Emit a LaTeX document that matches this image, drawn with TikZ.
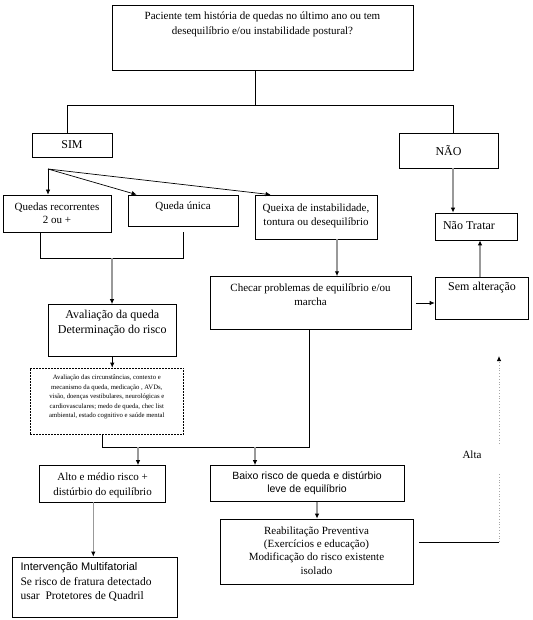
\documentclass[tikz,border=0pt]{standalone}
\usepackage{fontspec}
\setmainfont{Liberation Serif}
\newfontfamily\arialfont{Liberation Sans}
\usetikzlibrary{arrows.meta}
\tikzset{
  caixa/.style={draw, line width=0.7pt, inner sep=0pt, align=center},
  texto/.style={align=center, inner sep=0pt},
  seta/.style={line width=1.4pt, draw=black!40, -{Latex[black, length=5pt, width=4.5pt]}},
  fina/.style={line width=0.7pt, -{Latex[length=5pt, width=4.5pt]}},
  linha/.style={line width=0.7pt}
}
\begin{document}
\begin{tikzpicture}[x=1pt, y=-1pt, font=\fontsize{11}{15}\selectfont]
  \useasboundingbox (0,0) rectangle (532,620);
  % pergunta inicial
  \node [caixa, minimum width=301pt, minimum height=65pt] (pergunta) at (262.5,37.5) {};
  \node [texto] (perguntatxt) at (262.5,24.5) {Paciente tem história de quedas no último ano ou tem\\desequilíbrio e/ou instabilidade postural?};

  % sim / nao
  \node [caixa, minimum width=80pt, minimum height=24pt, font=\fontsize{12}{14}\selectfont] (sim) at (72,145) {SIM};
  \node [caixa, minimum width=99pt, minimum height=35pt, font=\fontsize{12}{14}\selectfont] (nao) at (448.5,150.5) {NÃO};
  \coordinate (divide) at (255,105);
  \coordinate (divsim) at (67,105);
  \coordinate (divnao) at (453,105);
  \draw [linha] (divide |- pergunta.south) -- (divide);
  \draw [linha] (divsim |- sim.north) -- (divsim) -- (divnao) -- (divnao |- nao.north);

  % ramo do sim
  \coordinate (leque) at (48,169);
  \node [caixa, minimum width=108pt, minimum height=37pt] (recorrentes) at (57,213.5) {};
  \node [texto, font=\fontsize{11}{12.5}\selectfont] (recorrentestxt) at (57,213) {Quedas recorrentes\\2 ou +};
  \node [caixa, minimum width=110pt, minimum height=31pt] (unica) at (183,210.5) {};
  \node [texto] (unicatxt) at (183,206.5) {Queda única};
  \node [caixa, minimum width=122pt, minimum height=44pt] (queixa) at (316,217) {};
  \node [texto, font=\fontsize{11}{14}\selectfont] (queixatxt) at (316,216) {Queixa de instabilidade,\\tontura ou desequilíbrio};
  \draw [fina] (leque) -- (leque |- recorrentes.north);
  \draw [fina] (leque) -- ([xshift=9pt]unica.north west);
  \draw [fina] (leque) -- ([xshift=16pt]queixa.north west);

  % ramo do nao
  \node [caixa, minimum width=82pt, minimum height=27pt] (naotratar) at (476,226.5) {};
  \node [texto, font=\fontsize{12}{14}\selectfont] (naotratartxt) at (469,226) {Não Tratar};
  \draw [seta] (nao.south -| divnao) -- (naotratar.north -| divnao);

  % quedas: avaliacao
  \coordinate (chaveesq) at (40,258);
  \coordinate (chavedir) at (183,258);
  \coordinate (chave) at (112,258);
  \draw [linha] (chaveesq |- recorrentes.south) -- (chaveesq) -- (chavedir) -- (183,232);
  \node [caixa, minimum width=127.5pt, minimum height=51.5pt] (avaliacao) at (112.25,330.25) {};
  \node [texto, font=\fontsize{12}{15}\selectfont] (avaliacaotxt) at (112.25,323.5) {Avaliação da queda\\Determinação do risco};
  \draw [seta] (chave) -- (chave |- avaliacao.north);
  \node [caixa, dash pattern=on 2pt off 1pt, minimum width=153.6pt, minimum height=66.4pt] (circunstancias) at (106.8,401.2) {};
  \node [texto, font=\fontsize{6.7}{9.6}\selectfont] (circunstanciastxt) at (106.8,397) {Avaliação das circunstâncias, contexto e\\mecanismo da queda, medicação , AVDs,\\visão, doenças vestibulares, neurológicas e\\cardiovasculares; medo de queda, chec list\\ambiental, estado cognitivo e saúde mental};
  \draw [fina] (avaliacao.south) -- (avaliacao.south |- circunstancias.north);

  % queixa: checar
  \node [caixa, minimum width=201.6pt, minimum height=52.4pt] (checar) at (310.8,302.8) {};
  \node [texto, font=\fontsize{11}{14.5}\selectfont] (checartxt) at (310.5,294.7) {Checar problemas de equilíbrio e/ou\\marcha};
  \coordinate (queixaseta) at (337,239);
  \draw [seta] (queixaseta) -- (queixaseta |- checar.north);
  \node [caixa, minimum width=93pt, minimum height=42pt] (semalteracao) at (481.5,298) {};
  \node [texto, font=\fontsize{12}{14}\selectfont] (semalteracaotxt) at (482,288) {Sem alteração};
  \coordinate (semseta) at (416,303);
  \draw [fina] (semseta) -- (semseta -| semalteracao.west);
  \coordinate (voltaseta) at (480,277);
  \draw [seta] (voltaseta) -- (voltaseta |- naotratar.south);

  % juncao
  \coordinate (juntaesq) at (102.5,447);
  \coordinate (juntadir) at (309.5,447);
  \draw [linha] (juntaesq |- circunstancias.south) -- (juntaesq) -- (juntadir) -- (juntadir |- checar.south);

  % risco
  \node [caixa, minimum width=126pt, minimum height=36.5pt] (alto) at (102.6,483.8) {};
  \node [texto] (altotxt) at (102.6,485.5) {Alto e médio risco +\\distúrbio do equilíbrio};
  \node [caixa, minimum width=194pt, minimum height=36pt, font=\arialfont\fontsize{10.5}{13}\selectfont] (baixo) at (307,483.5) {Baixo risco de queda e distúrbio\\leve de equilíbrio};
  \coordinate (altoseta) at (138,447);
  \coordinate (baixoseta) at (255,447);
  \draw [seta] (altoseta) -- (altoseta |- alto.north);
  \draw [seta] (baixoseta) -- (baixoseta |- baixo.north);

  % intervencao
  \node [caixa, minimum width=164.4pt, minimum height=60.5pt] (intervencao) at (94.8,587.25) {};
  \node [texto, align=left, anchor=west, font=\fontsize{11.5}{14.2}\selectfont] (intervencaotxt) at (20.4,582) {{\arialfont\fontsize{11}{14.2}\selectfont Intervenção Multifatorial}\\Se risco de fratura detectado\\usar\ \ Protetores de Quadril};
  \coordinate (intervseta) at (93.3,502);
  \draw [seta] (intervseta) -- (intervseta |- intervencao.north);
  \node [caixa, minimum width=193pt, minimum height=65pt] (reabilitacao) at (316.5,551.5) {};
  \node [texto, font=\fontsize{11}{13.2}\selectfont] (reabilitacaotxt) at (316.5,550.5) {Reabilitação Preventiva\\(Exercícios e educação)\\Modificação do risco existente\\isolado};
  \coordinate (reabseta) at (317,501.5);
  \draw [seta] (reabseta) -- (reabseta |- reabilitacao.north);

  % alta
  \coordinate (altaini) at (419,542);
  \coordinate (altacanto) at (499,542);
  \coordinate (altafim) at (499,356);
  \draw [linha] (altaini) -- (altacanto);
  \draw [black!35, dotted, line width=0.8pt] (altacanto) -- (499,473);
  \draw [black!35, dotted, line width=0.8pt, -{Latex[black, length=5pt, width=4.5pt]}] (499,444) -- (altafim);
  \node [texto] (alta) at (472,455) {Alta};
\end{tikzpicture}
\end{document}
